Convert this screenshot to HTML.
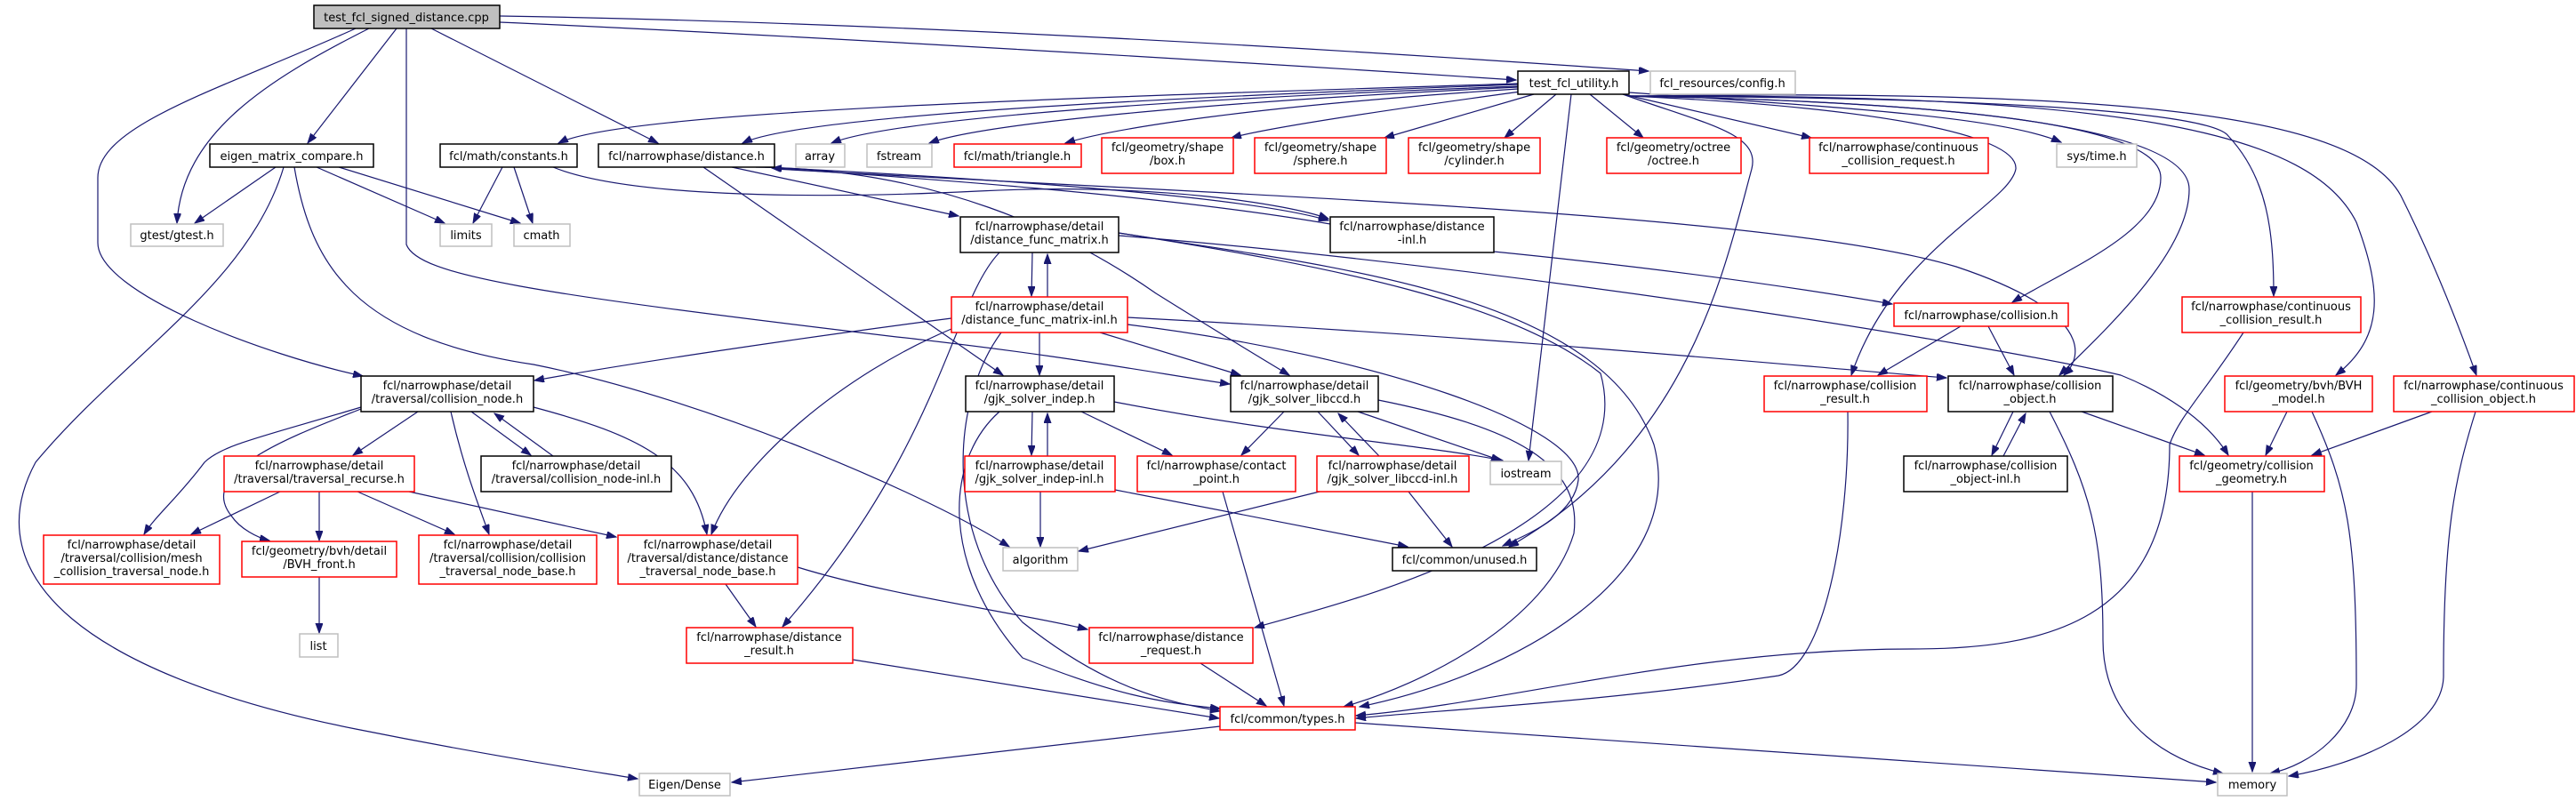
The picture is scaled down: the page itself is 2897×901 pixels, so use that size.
<!DOCTYPE html>
<html><head><meta charset="utf-8"><style>
html,body{margin:0;padding:0;background:#fff;}
svg{display:block;}
text{font-family:"DejaVu Sans","Liberation Sans",sans-serif;font-size:13px;fill:#000;}
.b{fill:#fff;stroke:#000;stroke-width:1.5;}
.r{fill:#fff;stroke:#ff0000;stroke-width:1.5;}
.g{fill:#fff;stroke:#bfbfbf;stroke-width:1.5;}
.e{fill:none;stroke:#191970;stroke-width:1.2;marker-end:url(#a);}
</style></head><body>
<svg width="2897" height="901" viewBox="0 0 2897 901" xmlns="http://www.w3.org/2000/svg">
<defs><marker id="a" markerUnits="userSpaceOnUse" markerWidth="12" markerHeight="9" refX="11" refY="4" orient="auto"><path d="M0,0 L11,4 L0,8 z" fill="#191970" stroke="#191970"/></marker></defs>
<g>
<path class="e" d="M562,25 C900,40 1400,70 1705,90"/>
<path class="e" d="M562,18 C1000,25 1500,55 1854,80"/>
<path class="e" d="M446,32 L346,161"/>
<path class="e" d="M485,32 L740,161"/>
<path class="e" d="M415,32 C300,90 205,150 199,251"/>
<path class="e" d="M400,32 C250,100 110,140 110,200 L110,273 C110,330 300,400 408,423"/>
<path class="e" d="M457,32 L457,275 C470,310 600,330 1000,378 C1200,400 1300,420 1383,432"/>
<path class="e" d="M1707,94 C1200,110 700,125 628,161"/>
<path class="e" d="M1707,95 C1300,110 900,130 835,161"/>
<path class="e" d="M1707,97 C1300,112 1000,135 935,161"/>
<path class="e" d="M1707,98 C1350,115 1100,140 1045,161"/>
<path class="e" d="M1707,100 C1400,120 1250,145 1198,161"/>
<path class="e" d="M1710,103 C1550,125 1420,145 1385,155"/>
<path class="e" d="M1725,106 L1557,155"/>
<path class="e" d="M1750,106 L1692,155"/>
<path class="e" d="M1788,106 L1848,155"/>
<path class="e" d="M1825,106 L2037,155"/>
<path class="e" d="M1832,104 C2050,120 2250,130 2318,160"/>
<path class="e" d="M1767,106 L1719,518"/>
<path class="e" d="M1825,106 C1920,140 1980,150 1970,190 C1940,300 1900,500 1697,615"/>
<path class="e" d="M1832,108 C2100,120 2270,150 2267,190 C2260,230 2130,280 2082,422"/>
<path class="e" d="M1832,108 C2200,115 2430,140 2430,200 C2430,260 2330,300 2263,340"/>
<path class="e" d="M1832,108 C2250,115 2462,150 2462,213 C2462,280 2380,360 2316,422"/>
<path class="e" d="M1832,108 C2300,110 2490,130 2506,153 C2550,200 2557,260 2557,333"/>
<path class="e" d="M1832,108 C2400,105 2600,150 2650,250 C2680,330 2680,380 2627,422"/>
<path class="e" d="M1832,108 C2400,100 2650,130 2700,220 C2740,300 2770,380 2785,422"/>
<path class="e" d="M823,188 L1078,243"/>
<path class="e" d="M791,188 L1128,422"/>
<path class="e" d="M860,188 C1100,200 1400,220 1494,248"/>
<path class="e" d="M1496,252 C1300,218 1000,198 868,189"/>
<path class="e" d="M850,188 C1050,190 1200,260 1300,330 C1380,380 1430,410 1450,422"/>
<path class="e" d="M871,190 C1400,220 2000,240 2200,300 C2350,350 2345,400 2321,422"/>
<path class="e" d="M1680,283 C1850,300 2000,320 2128,342"/>
<path class="e" d="M622,188 C700,220 900,225 1100,215 C1300,205 1450,230 1494,246"/>
<path class="e" d="M1161,284 L1160,333"/>
<path class="e" d="M1178,334 L1178,286"/>
<path class="e" d="M1258,262 C1500,300 1800,330 1860,500 C1900,650 1700,760 1529,795"/>
<path class="e" d="M1258,262 C1500,300 1700,340 1800,420 C1850,600 1500,680 1411,706"/>
<path class="e" d="M1124,284 C1070,340 1060,500 880,705"/>
<path class="e" d="M1258,265 C1700,300 2250,390 2385,422 C2430,440 2480,470 2506,512"/>
<path class="e" d="M1070,358 C900,380 700,410 601,428"/>
<path class="e" d="M1169,374 L1169,422"/>
<path class="e" d="M1237,374 L1395,422"/>
<path class="e" d="M1268,357 C1700,380 2000,410 2189,425"/>
<path class="e" d="M1070,370 C950,420 830,520 800,601"/>
<path class="e" d="M1126,374 C1070,450 1060,600 1150,700 C1250,780 1320,790 1372,800"/>
<path class="e" d="M1268,365 C1550,400 1780,480 1775,540 C1770,580 1720,600 1690,614"/>
<path class="e" d="M1550,450 C1700,480 1780,520 1770,600 C1740,700 1600,770 1511,795"/>
<path class="e" d="M1161,463 L1160,512"/>
<path class="e" d="M1178,513 L1178,465"/>
<path class="e" d="M1216,463 L1318,512"/>
<path class="e" d="M1253,452 C1450,490 1600,500 1690,518"/>
<path class="e" d="M1124,463 C1060,520 1060,640 1150,740 C1250,780 1300,790 1372,797"/>
<path class="e" d="M1444,463 L1396,512"/>
<path class="e" d="M1482,463 L1528,512"/>
<path class="e" d="M1551,513 L1505,465"/>
<path class="e" d="M1527,463 L1688,518"/>
<path class="e" d="M1170,553 L1170,615"/>
<path class="e" d="M1254,551 L1583,615"/>
<path class="e" d="M1484,553 L1213,620"/>
<path class="e" d="M1584,553 L1633,615"/>
<path class="e" d="M1375,553 L1444,794"/>
<path class="e" d="M1350,746 L1424,794"/>
<path class="e" d="M959,742 L1371,808"/>
<path class="e" d="M1372,817 L823,880"/>
<path class="e" d="M1524,813 L2492,880"/>
<path class="e" d="M310,188 L219,251"/>
<path class="e" d="M356,188 L500,251"/>
<path class="e" d="M381,188 L585,251"/>
<path class="e" d="M565,188 L532,251"/>
<path class="e" d="M578,188 L599,251"/>
<path class="e" d="M331,188 C350,300 400,380 600,410 C800,450 1050,560 1135,615"/>
<path class="e" d="M319,188 C280,320 140,400 40,520 C-30,650 100,760 400,820 C550,850 650,865 717,876"/>
<path class="e" d="M470,463 L397,512"/>
<path class="e" d="M530,463 L597,512"/>
<path class="e" d="M622,513 L556,465"/>
<path class="e" d="M406,458 C300,490 250,500 230,520 C200,560 175,580 162,601"/>
<path class="e" d="M406,460 C330,490 220,530 260,580 C270,595 290,605 303,608"/>
<path class="e" d="M507,463 C520,520 535,560 550,601"/>
<path class="e" d="M600,458 C720,490 780,520 795,601"/>
<path class="e" d="M315,553 L215,601"/>
<path class="e" d="M359,553 L359,608"/>
<path class="e" d="M402,553 L511,601"/>
<path class="e" d="M460,553 L693,604"/>
<path class="e" d="M359,649 L359,712"/>
<path class="e" d="M816,657 L850,705"/>
<path class="e" d="M897,638 C1000,670 1150,690 1223,708"/>
<path class="e" d="M2205,367 L2112,422"/>
<path class="e" d="M2236,367 L2265,422"/>
<path class="e" d="M2078,463 C2080,600 2050,750 2000,760 C1800,790 1600,800 1525,808"/>
<path class="e" d="M2523,374 C2480,440 2450,470 2440,500 C2440,700 2300,730 2150,730 C1900,730 1700,790 1525,805"/>
<path class="e" d="M2264,463 L2240,512"/>
<path class="e" d="M2253,513 L2278,465"/>
<path class="e" d="M2341,463 L2479,512"/>
<path class="e" d="M2305,463 C2350,550 2365,600 2365,720 C2365,800 2420,850 2500,870"/>
<path class="e" d="M2572,463 L2548,512"/>
<path class="e" d="M2600,463 C2640,550 2650,600 2650,770 C2650,820 2600,860 2553,870"/>
<path class="e" d="M2735,463 L2600,512"/>
<path class="e" d="M2784,463 C2760,540 2748,600 2748,760 C2748,820 2650,860 2574,873"/>
<path class="e" d="M2533,553 L2533,868"/>
</g>
<g>
<rect x="353" y="6" width="209" height="26" fill="#bfbfbf" stroke="#000" stroke-width="1.5"/><text x="457" y="24" text-anchor="middle">test_fcl_signed_distance.cpp</text>
<rect class="b" x="1707" y="80" width="125" height="26"/><text x="1770" y="98" text-anchor="middle">test_fcl_utility.h</text>
<rect class="g" x="1856" y="80" width="163" height="26"/><text x="1937" y="98" text-anchor="middle">fcl_resources/config.h</text>
<rect class="b" x="236" y="162" width="184" height="26"/><text x="328" y="180" text-anchor="middle">eigen_matrix_compare.h</text>
<rect class="b" x="495" y="162" width="154" height="26"/><text x="572" y="180" text-anchor="middle">fcl/math/constants.h</text>
<rect class="b" x="673" y="162" width="198" height="26"/><text x="772" y="180" text-anchor="middle">fcl/narrowphase/distance.h</text>
<rect class="g" x="895" y="162" width="55" height="26"/><text x="922" y="180" text-anchor="middle">array</text>
<rect class="g" x="975" y="162" width="73" height="26"/><text x="1011" y="180" text-anchor="middle">fstream</text>
<rect class="r" x="1073" y="162" width="143" height="26"/><text x="1144" y="180" text-anchor="middle">fcl/math/triangle.h</text>
<rect class="r" x="1239" y="155" width="148" height="40"/><text x="1313" y="170" text-anchor="middle">fcl/geometry/shape</text><text x="1313" y="185" text-anchor="middle">/box.h</text>
<rect class="r" x="1411" y="155" width="148" height="40"/><text x="1485" y="170" text-anchor="middle">fcl/geometry/shape</text><text x="1485" y="185" text-anchor="middle">/sphere.h</text>
<rect class="r" x="1584" y="155" width="148" height="40"/><text x="1658" y="170" text-anchor="middle">fcl/geometry/shape</text><text x="1658" y="185" text-anchor="middle">/cylinder.h</text>
<rect class="r" x="1807" y="155" width="151" height="40"/><text x="1882" y="170" text-anchor="middle">fcl/geometry/octree</text><text x="1882" y="185" text-anchor="middle">/octree.h</text>
<rect class="r" x="2035" y="155" width="201" height="40"/><text x="2135" y="170" text-anchor="middle">fcl/narrowphase/continuous</text><text x="2135" y="185" text-anchor="middle">_collision_request.h</text>
<rect class="g" x="2313" y="162" width="90" height="26"/><text x="2358" y="180" text-anchor="middle">sys/time.h</text>
<rect class="g" x="147" y="252" width="104" height="25"/><text x="199" y="269" text-anchor="middle">gtest/gtest.h</text>
<rect class="g" x="495" y="252" width="58" height="25"/><text x="524" y="269" text-anchor="middle">limits</text>
<rect class="g" x="578" y="252" width="63" height="25"/><text x="609" y="269" text-anchor="middle">cmath</text>
<rect class="b" x="1080" y="244" width="178" height="40"/><text x="1169" y="259" text-anchor="middle">fcl/narrowphase/detail</text><text x="1169" y="274" text-anchor="middle">/distance_func_matrix.h</text>
<rect class="b" x="1496" y="244" width="184" height="40"/><text x="1588" y="259" text-anchor="middle">fcl/narrowphase/distance</text><text x="1588" y="274" text-anchor="middle">-inl.h</text>
<rect class="r" x="1070" y="334" width="198" height="40"/><text x="1169" y="349" text-anchor="middle">fcl/narrowphase/detail</text><text x="1169" y="364" text-anchor="middle">/distance_func_matrix-inl.h</text>
<rect class="r" x="2130" y="341" width="196" height="26"/><text x="2228" y="359" text-anchor="middle">fcl/narrowphase/collision.h</text>
<rect class="r" x="2454" y="334" width="201" height="40"/><text x="2554" y="349" text-anchor="middle">fcl/narrowphase/continuous</text><text x="2554" y="364" text-anchor="middle">_collision_result.h</text>
<rect class="b" x="406" y="423" width="194" height="40"/><text x="503" y="438" text-anchor="middle">fcl/narrowphase/detail</text><text x="503" y="453" text-anchor="middle">/traversal/collision_node.h</text>
<rect class="b" x="1086" y="423" width="167" height="40"/><text x="1169" y="438" text-anchor="middle">fcl/narrowphase/detail</text><text x="1169" y="453" text-anchor="middle">/gjk_solver_indep.h</text>
<rect class="b" x="1384" y="423" width="166" height="40"/><text x="1467" y="438" text-anchor="middle">fcl/narrowphase/detail</text><text x="1467" y="453" text-anchor="middle">/gjk_solver_libccd.h</text>
<rect class="r" x="1984" y="423" width="183" height="40"/><text x="2075" y="438" text-anchor="middle">fcl/narrowphase/collision</text><text x="2075" y="453" text-anchor="middle">_result.h</text>
<rect class="b" x="2191" y="423" width="185" height="40"/><text x="2283" y="438" text-anchor="middle">fcl/narrowphase/collision</text><text x="2283" y="453" text-anchor="middle">_object.h</text>
<rect class="r" x="2502" y="423" width="166" height="40"/><text x="2585" y="438" text-anchor="middle">fcl/geometry/bvh/BVH</text><text x="2585" y="453" text-anchor="middle">_model.h</text>
<rect class="r" x="2692" y="423" width="203" height="40"/><text x="2793" y="438" text-anchor="middle">fcl/narrowphase/continuous</text><text x="2793" y="453" text-anchor="middle">_collision_object.h</text>
<rect class="r" x="252" y="513" width="214" height="40"/><text x="359" y="528" text-anchor="middle">fcl/narrowphase/detail</text><text x="359" y="543" text-anchor="middle">/traversal/traversal_recurse.h</text>
<rect class="b" x="541" y="513" width="214" height="40"/><text x="648" y="528" text-anchor="middle">fcl/narrowphase/detail</text><text x="648" y="543" text-anchor="middle">/traversal/collision_node-inl.h</text>
<rect class="r" x="1085" y="513" width="169" height="40"/><text x="1169" y="528" text-anchor="middle">fcl/narrowphase/detail</text><text x="1169" y="543" text-anchor="middle">/gjk_solver_indep-inl.h</text>
<rect class="r" x="1279" y="513" width="178" height="40"/><text x="1368" y="528" text-anchor="middle">fcl/narrowphase/contact</text><text x="1368" y="543" text-anchor="middle">_point.h</text>
<rect class="r" x="1481" y="513" width="171" height="40"/><text x="1566" y="528" text-anchor="middle">fcl/narrowphase/detail</text><text x="1566" y="543" text-anchor="middle">/gjk_solver_libccd-inl.h</text>
<rect class="g" x="1676" y="519" width="80" height="26"/><text x="1716" y="537" text-anchor="middle">iostream</text>
<rect class="b" x="2141" y="513" width="184" height="40"/><text x="2233" y="528" text-anchor="middle">fcl/narrowphase/collision</text><text x="2233" y="543" text-anchor="middle">_object-inl.h</text>
<rect class="r" x="2451" y="513" width="163" height="40"/><text x="2532" y="528" text-anchor="middle">fcl/geometry/collision</text><text x="2532" y="543" text-anchor="middle">_geometry.h</text>
<rect class="r" x="49" y="602" width="198" height="55"/><text x="148" y="617" text-anchor="middle">fcl/narrowphase/detail</text><text x="148" y="632" text-anchor="middle">/traversal/collision/mesh</text><text x="148" y="647" text-anchor="middle">_collision_traversal_node.h</text>
<rect class="r" x="272" y="609" width="174" height="40"/><text x="359" y="624" text-anchor="middle">fcl/geometry/bvh/detail</text><text x="359" y="639" text-anchor="middle">/BVH_front.h</text>
<rect class="r" x="471" y="602" width="200" height="55"/><text x="571" y="617" text-anchor="middle">fcl/narrowphase/detail</text><text x="571" y="632" text-anchor="middle">/traversal/collision/collision</text><text x="571" y="647" text-anchor="middle">_traversal_node_base.h</text>
<rect class="r" x="695" y="602" width="202" height="55"/><text x="796" y="617" text-anchor="middle">fcl/narrowphase/detail</text><text x="796" y="632" text-anchor="middle">/traversal/distance/distance</text><text x="796" y="647" text-anchor="middle">_traversal_node_base.h</text>
<rect class="g" x="1128" y="616" width="84" height="26"/><text x="1170" y="634" text-anchor="middle">algorithm</text>
<rect class="b" x="1566" y="616" width="162" height="26"/><text x="1647" y="634" text-anchor="middle">fcl/common/unused.h</text>
<rect class="g" x="337" y="713" width="43" height="26"/><text x="358" y="731" text-anchor="middle">list</text>
<rect class="r" x="772" y="706" width="187" height="40"/><text x="865" y="721" text-anchor="middle">fcl/narrowphase/distance</text><text x="865" y="736" text-anchor="middle">_result.h</text>
<rect class="r" x="1225" y="706" width="184" height="40"/><text x="1317" y="721" text-anchor="middle">fcl/narrowphase/distance</text><text x="1317" y="736" text-anchor="middle">_request.h</text>
<rect class="r" x="1372" y="795" width="152" height="26"/><text x="1448" y="813" text-anchor="middle">fcl/common/types.h</text>
<rect class="g" x="719" y="870" width="102" height="25"/><text x="770" y="887" text-anchor="middle">Eigen/Dense</text>
<rect class="g" x="2494" y="870" width="78" height="25"/><text x="2533" y="887" text-anchor="middle">memory</text>
</g>
</svg>
</body></html>
